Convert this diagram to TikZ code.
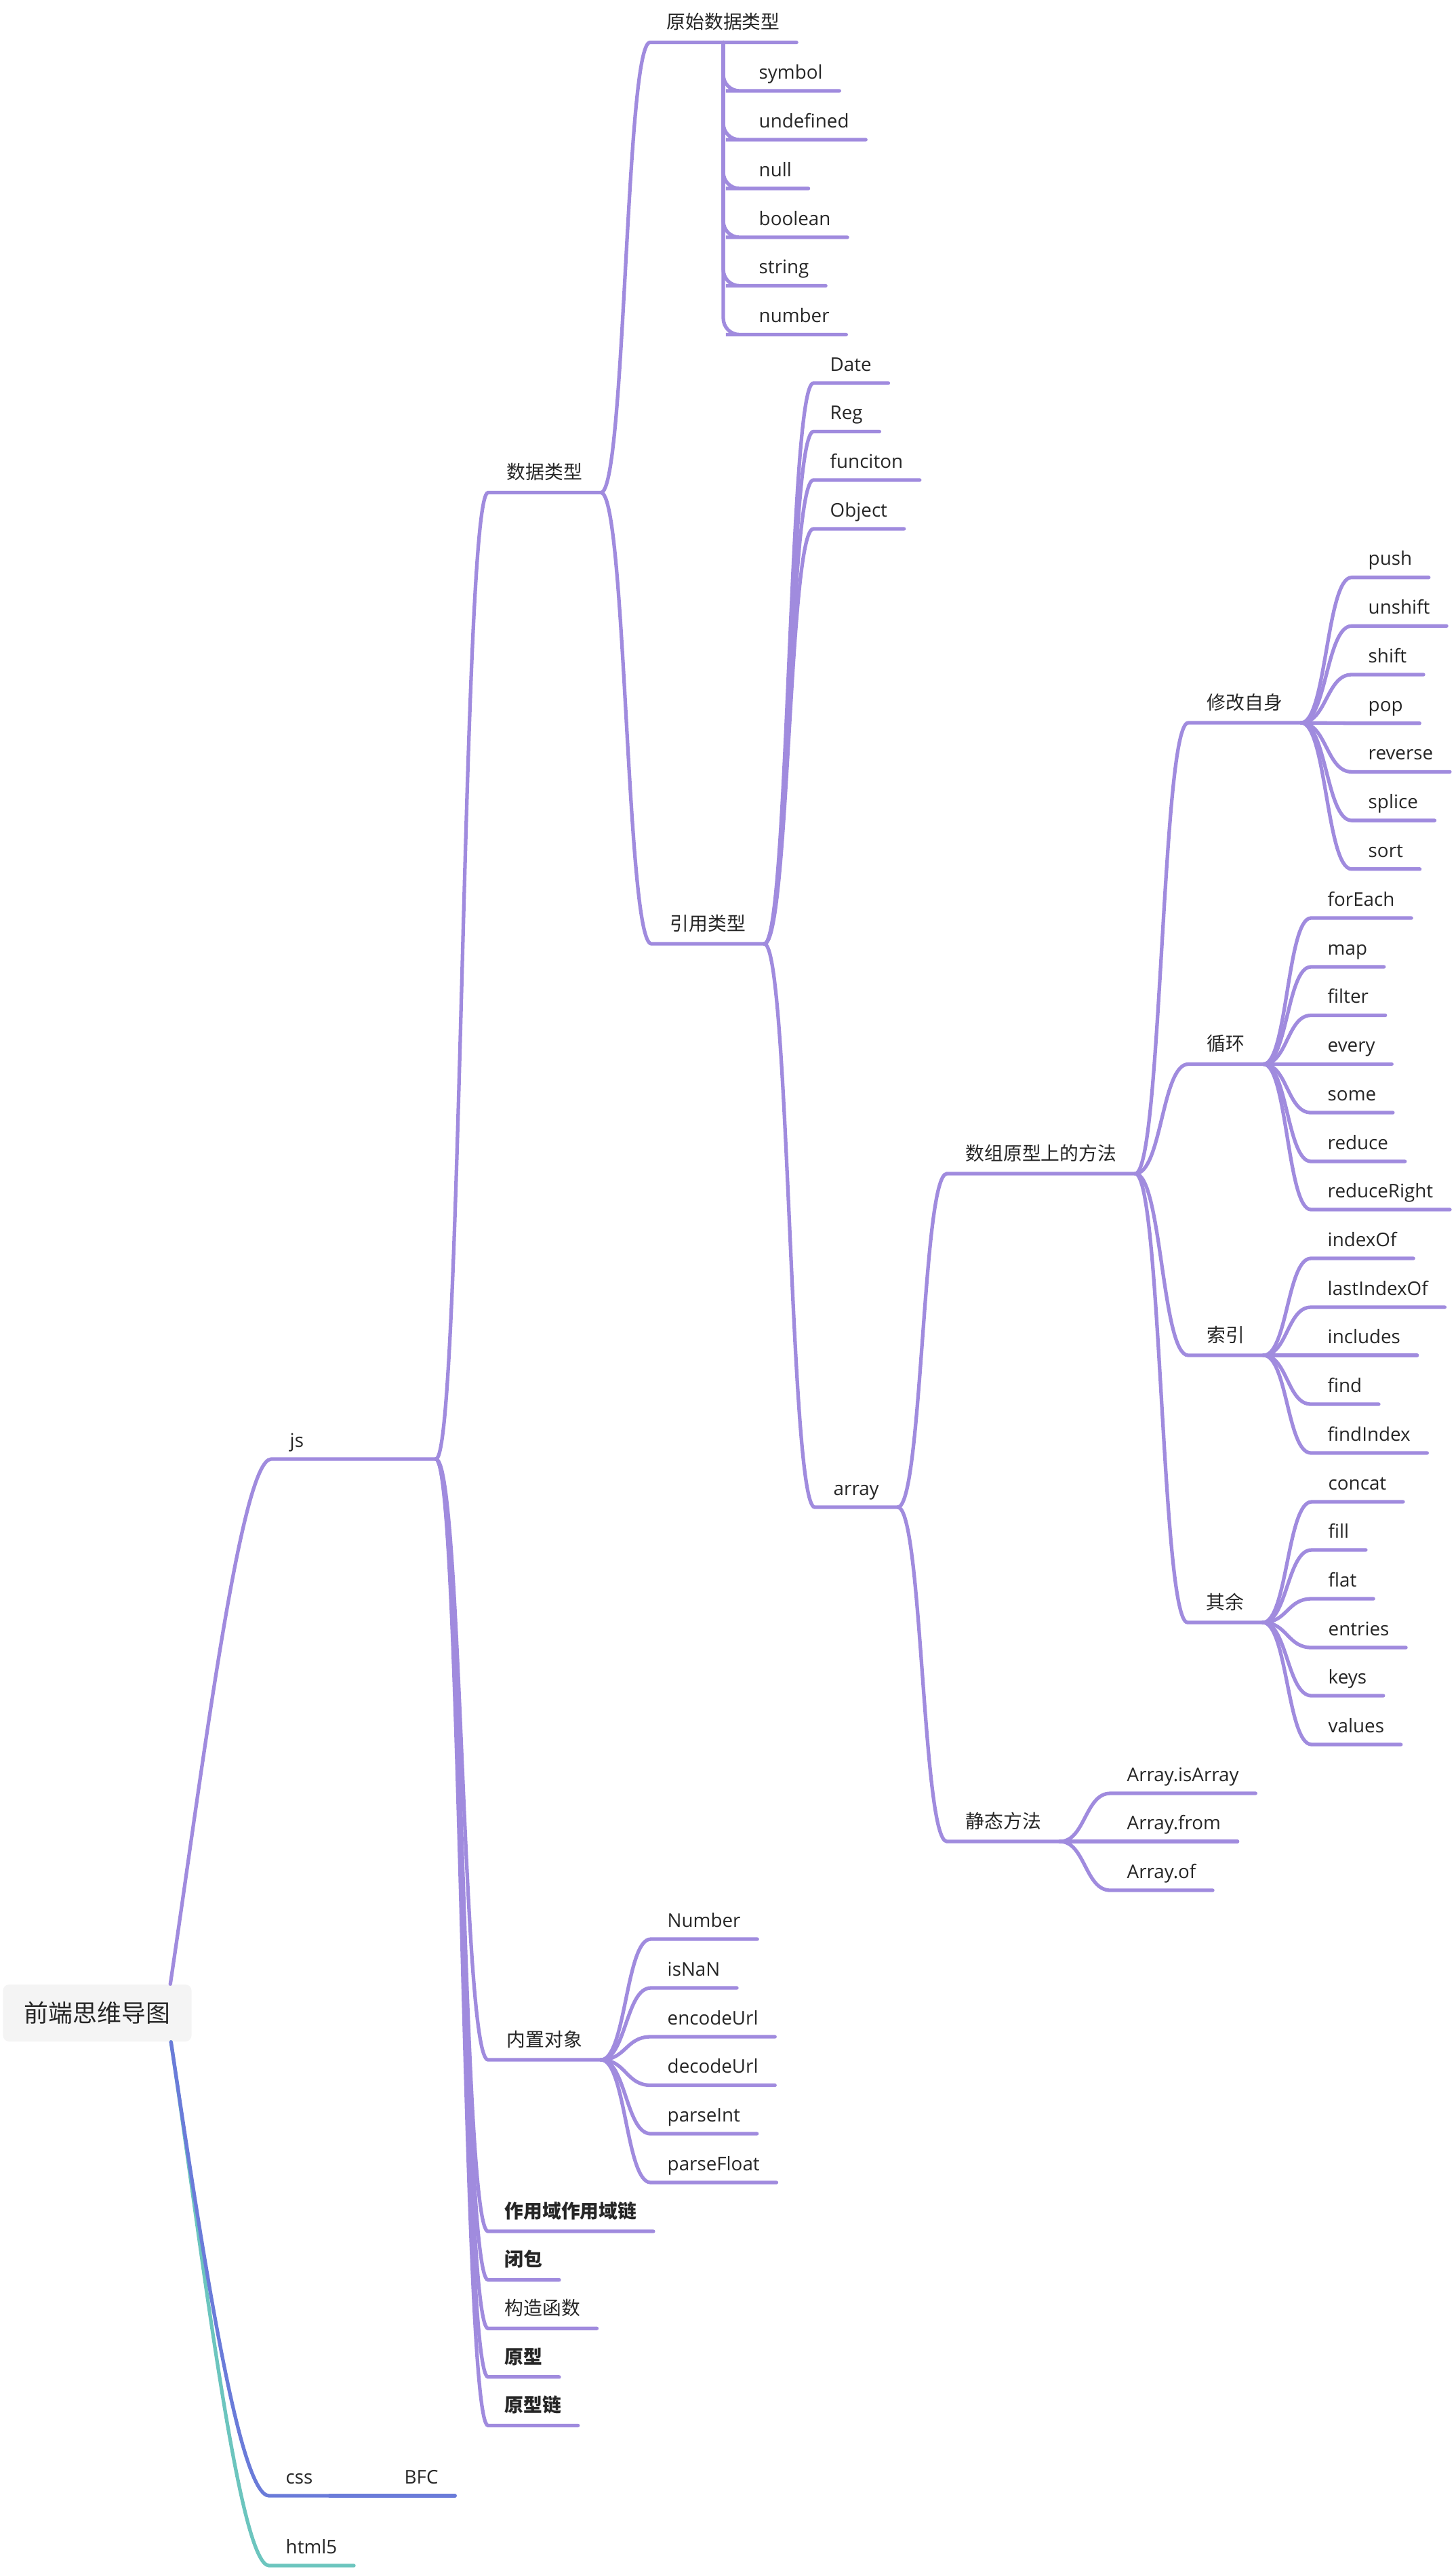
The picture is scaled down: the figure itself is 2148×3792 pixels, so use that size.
\documentclass[tikz,border=0pt]{standalone}
\usepackage{fontspec}
\setmainfont{Open Sans}
\newfontfamily\cjk{Noto Sans CJK SC}
\usepackage{tikz}
\usetikzlibrary{calc}
\definecolor{jsline}{HTML}{A08BDE}
\definecolor{cssline}{HTML}{6A7BD9}
\definecolor{htmlline}{HTML}{6CC5BE}
\definecolor{ink}{HTML}{262626}
\definecolor{rootfill}{HTML}{F4F4F4}

\begin{document}
\begin{tikzpicture}[x=0.01cm, y=-0.01cm,
  ln/.style={line width=1.5pt, line cap=round, jsline},
  sbranch/.style={to path={.. controls ($(\tikztostart)!.5!(\tikztostart -| \tikztotarget)$) and ($(\tikztotarget)!.5!(\tikztotarget -| \tikztostart)$) .. (\tikztotarget)}},
  leaf/.style={anchor=south west, inner xsep=0.24cm, inner ysep=0pt, text depth=0.17cm, text=ink, font=\fontsize{7.9}{9.5}\selectfont},
  hub/.style={leaf, inner xsep=0.27cm},
  zh/.style={text depth=0.19cm, font=\fontsize{7.9}{9.5}\selectfont\cjk},
  zhb/.style={zh, font=\fontsize{7.9}{9.5}\selectfont\cjk\bfseries},
  rootbox/.style={fill=rootfill, rounded corners=0.09cm, minimum width=2.78cm, minimum height=0.84cm, inner sep=0pt, text=ink, font=\fontsize{10.2}{12}\selectfont\cjk}]
  \useasboundingbox (0,0) rectangle (2148,3792);
  \node[rootbox] (root) at (143.5,2969) {前端思维导图};

  % main branches
  \node[hub, text width=1.875cm, align=left] (js) at (400,2152) {js};
  \node[leaf] (css) at (397,3681) {css};
  \node[leaf] (bfc) at (572,3681) {BFC};
  \node[leaf] (html) at (397,3784) {html5};

  % js
  \node[hub, zh] (dtype) at (720,726.5) {数据类型};
  \node[hub, zh] (builtin) at (720,3038) {内置对象};
  \node[leaf, zhb] (scope) at (720,3291) {作用域作用域链};
  \node[leaf, zhb] (closure) at (720,3362.6) {闭包};
  \node[leaf, zh] (ctor) at (720,3434.2) {构造函数};
  \node[leaf, zhb] (proto) at (720,3505.8) {原型};
  \node[leaf, zhb] (chain) at (720,3577.4) {原型链};

  \node[leaf, zh] (prim) at (959,62.5) {原始数据类型};
  \node[leaf] (symbol) at (1095,134) {symbol};
  \node[leaf] (undef) at (1095,206) {undefined};
  \node[leaf] (null) at (1095,278) {null};
  \node[leaf] (bool) at (1095,350) {boolean};
  \node[leaf] (str) at (1095,421.5) {string};
  \node[leaf] (num) at (1095,493.5) {number};

  \node[hub, zh] (ref) at (961,1392) {引用类型};
  \node[leaf] (date) at (1200,565) {Date};
  \node[leaf] (reg) at (1200,636.5) {Reg};
  \node[leaf] (func) at (1200,708) {funciton};
  \node[leaf] (obj) at (1200,780) {Object};
  \node[hub] (arr) at (1202,2223) {array};

  \node[hub, zh] (protom) at (1397,1731) {数组原型上的方法};
  \node[hub, zh] (static) at (1397,2716) {静态方法};

  \node[hub, zh] (mutate) at (1753,1066) {修改自身};
  \node[leaf] (push) at (1994,851.6) {push};
  \node[leaf] (unshift) at (1994,923.3) {unshift};
  \node[leaf] (shift) at (1994,995) {shift};
  \node[leaf] (pop) at (1994,1066.7) {pop};
  \node[leaf] (reverse) at (1994,1138.4) {reverse};
  \node[leaf] (splice) at (1994,1210.1) {splice};
  \node[leaf] (sort) at (1994,1281.8) {sort};

  \node[hub, zh] (loop) at (1753,1569.5) {循环};
  \node[leaf] (foreach) at (1934,1354) {forEach};
  \node[leaf] (map) at (1934,1426) {map};
  \node[leaf] (filter) at (1934,1497.5) {filter};
  \node[leaf] (every) at (1934,1569.5) {every};
  \node[leaf] (some) at (1934,1641) {some};
  \node[leaf] (reduce) at (1934,1713) {reduce};
  \node[leaf] (reducer) at (1934,1784) {reduceRight};

  \node[hub, zh] (index) at (1753,1999) {索引};
  \node[leaf] (indexof) at (1934,1856) {indexOf};
  \node[leaf] (lastidx) at (1934,1928) {lastIndexOf};
  \node[leaf] (incl) at (1934,1999) {includes};
  \node[leaf] (find) at (1934,2071) {find};
  \node[leaf] (findidx) at (1934,2143) {findIndex};

  \node[hub, zh] (other) at (1752,2393) {其余};
  \node[leaf] (concat) at (1935,2215) {concat};
  \node[leaf] (fill) at (1935,2286) {fill};
  \node[leaf] (flat) at (1935,2358) {flat};
  \node[leaf] (entries) at (1935,2430) {entries};
  \node[leaf] (keys) at (1935,2501) {keys};
  \node[leaf] (values) at (1935,2573) {values};

  \node[leaf] (isarray) at (1638,2645) {Array.isArray};
  \node[leaf] (from) at (1638,2716) {Array.from};
  \node[leaf] (of) at (1638,2788) {Array.of};

  \node[leaf] (number) at (960,2860) {Number};
  \node[leaf] (isnan) at (960,2932) {isNaN};
  \node[leaf] (encode) at (960,3004) {encodeUrl};
  \node[leaf] (decode) at (960,3075.5) {decodeUrl};
  \node[leaf] (parseint) at (960,3147) {parseInt};
  \node[leaf] (parsefloat) at (960,3219) {parseFloat};

  % connectors, each one ends with the child's underline
  \draw[ln] ([xshift=-0.32cm]root.north east) .. controls +(45,-300) and +(-45,0) .. (js.south west) -- (js.south east);
  \draw[ln, htmlline] ([xshift=-0.31cm]root.south east) .. controls +(45,300) and +(-45,0) .. (html.south west) -- (html.south east);
  \draw[ln, cssline] ([xshift=-0.31cm]root.south east) .. controls +(45,300) and +(-45,0) .. (css.south west) -- (css.south east);
  \draw[ln, cssline] (css.south east) -- (bfc.south west) -- (bfc.south east);

  \draw[ln] (js.south east) to[sbranch] (dtype.south west) -- (dtype.south east);
  \draw[ln] (js.south east) to[sbranch] (builtin.south west) -- (builtin.south east);
  \draw[ln] (js.south east) to[sbranch] (scope.south west) -- (scope.south east);
  \draw[ln] (js.south east) to[sbranch] (closure.south west) -- (closure.south east);
  \draw[ln] (js.south east) to[sbranch] (ctor.south west) -- (ctor.south east);
  \draw[ln] (js.south east) to[sbranch] (proto.south west) -- (proto.south east);
  \draw[ln] (js.south east) to[sbranch] (chain.south west) -- (chain.south east);

  \draw[ln] (dtype.south east) to[sbranch] (prim.south west) -- (prim.south east);
  \draw[ln] (dtype.south east) to[sbranch] (ref.south west) -- (ref.south east);

  \draw[ln, rounded corners=0.24cm] (prim.south) |- (symbol.south west) -- (symbol.south east);
  \draw[ln, rounded corners=0.24cm] (prim.south) |- (undef.south west) -- (undef.south east);
  \draw[ln, rounded corners=0.24cm] (prim.south) |- (null.south west) -- (null.south east);
  \draw[ln, rounded corners=0.24cm] (prim.south) |- (bool.south west) -- (bool.south east);
  \draw[ln, rounded corners=0.24cm] (prim.south) |- (str.south west) -- (str.south east);
  \draw[ln, rounded corners=0.24cm] (prim.south) |- (num.south west) -- (num.south east);

  \draw[ln] (ref.south east) to[sbranch] (date.south west) -- (date.south east);
  \draw[ln] (ref.south east) to[sbranch] (reg.south west) -- (reg.south east);
  \draw[ln] (ref.south east) to[sbranch] (func.south west) -- (func.south east);
  \draw[ln] (ref.south east) to[sbranch] (obj.south west) -- (obj.south east);
  \draw[ln] (ref.south east) to[sbranch] (arr.south west) -- (arr.south east);

  \draw[ln] (arr.south east) to[sbranch] (protom.south west) -- (protom.south east);
  \draw[ln] (arr.south east) to[sbranch] (static.south west) -- (static.south east);

  \draw[ln] (protom.south east) to[sbranch] (mutate.south west) -- (mutate.south east);
  \draw[ln] (protom.south east) to[sbranch] (loop.south west) -- (loop.south east);
  \draw[ln] (protom.south east) to[sbranch] (index.south west) -- (index.south east);
  \draw[ln] (protom.south east) to[sbranch] (other.south west) -- (other.south east);

  \draw[ln] (mutate.south east) to[sbranch] (push.south west) -- (push.south east);
  \draw[ln] (mutate.south east) to[sbranch] (unshift.south west) -- (unshift.south east);
  \draw[ln] (mutate.south east) to[sbranch] (shift.south west) -- (shift.south east);
  \draw[ln] (mutate.south east) to[sbranch] (pop.south west) -- (pop.south east);
  \draw[ln] (mutate.south east) to[sbranch] (reverse.south west) -- (reverse.south east);
  \draw[ln] (mutate.south east) to[sbranch] (splice.south west) -- (splice.south east);
  \draw[ln] (mutate.south east) to[sbranch] (sort.south west) -- (sort.south east);

  \draw[ln] (loop.south east) to[sbranch] (foreach.south west) -- (foreach.south east);
  \draw[ln] (loop.south east) to[sbranch] (map.south west) -- (map.south east);
  \draw[ln] (loop.south east) to[sbranch] (filter.south west) -- (filter.south east);
  \draw[ln] (loop.south east) to[sbranch] (every.south west) -- (every.south east);
  \draw[ln] (loop.south east) to[sbranch] (some.south west) -- (some.south east);
  \draw[ln] (loop.south east) to[sbranch] (reduce.south west) -- (reduce.south east);
  \draw[ln] (loop.south east) to[sbranch] (reducer.south west) -- (reducer.south east);

  \draw[ln] (index.south east) to[sbranch] (indexof.south west) -- (indexof.south east);
  \draw[ln] (index.south east) to[sbranch] (lastidx.south west) -- (lastidx.south east);
  \draw[ln] (index.south east) to[sbranch] (incl.south west) -- (incl.south east);
  \draw[ln] (index.south east) to[sbranch] (find.south west) -- (find.south east);
  \draw[ln] (index.south east) to[sbranch] (findidx.south west) -- (findidx.south east);

  \draw[ln] (other.south east) to[sbranch] (concat.south west) -- (concat.south east);
  \draw[ln] (other.south east) to[sbranch] (fill.south west) -- (fill.south east);
  \draw[ln] (other.south east) to[sbranch] (flat.south west) -- (flat.south east);
  \draw[ln] (other.south east) to[sbranch] (entries.south west) -- (entries.south east);
  \draw[ln] (other.south east) to[sbranch] (keys.south west) -- (keys.south east);
  \draw[ln] (other.south east) to[sbranch] (values.south west) -- (values.south east);

  \draw[ln] (static.south east) to[sbranch] (isarray.south west) -- (isarray.south east);
  \draw[ln] (static.south east) to[sbranch] (from.south west) -- (from.south east);
  \draw[ln] (static.south east) to[sbranch] (of.south west) -- (of.south east);

  \draw[ln] (builtin.south east) to[sbranch] (number.south west) -- (number.south east);
  \draw[ln] (builtin.south east) to[sbranch] (isnan.south west) -- (isnan.south east);
  \draw[ln] (builtin.south east) to[sbranch] (encode.south west) -- (encode.south east);
  \draw[ln] (builtin.south east) to[sbranch] (decode.south west) -- (decode.south east);
  \draw[ln] (builtin.south east) to[sbranch] (parseint.south west) -- (parseint.south east);
  \draw[ln] (builtin.south east) to[sbranch] (parsefloat.south west) -- (parsefloat.south east);
\end{tikzpicture}
\end{document}
